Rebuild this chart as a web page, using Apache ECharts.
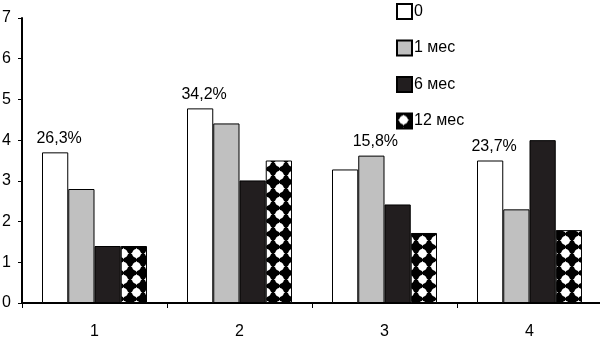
<!DOCTYPE html>
<html>
<head>
<meta charset="utf-8">
<script src="https://cdn.jsdelivr.net/npm/echarts@6/dist/echarts.min.js"></script>
<style>
  html, body { margin: 0; padding: 0; background: #fff; }
  #chart { width: 600px; height: 338px; }
</style>
</head>
<body>
<div id="chart"></div>
<script>
// Groups along the x axis
const categories = ['1', '2', '3', '4'];
// Series names (legend)
const seriesNames = ['0', '1 мес', '6 мес', '12 мес'];
// Values per series, one per group
const valuesM0 = [3.7, 4.78, 3.28, 3.5];
const valuesM1 = [2.8, 4.41, 3.62, 2.3];
const valuesM6 = [1.4, 3.01, 2.42, 4.0];
const valuesM12 = [1.4, 3.5, 1.72, 1.79];
// Percent annotations written above each group
const groupPercents = ['26,3%', '34,2%', '15,8%', '23,7%'];
// Y axis ticks
const yTicks = [0, 1, 2, 3, 4, 5, 6, 7];

const FONT = '"Liberation Sans", Arial, sans-serif';

// Black tile with a white rounded four-point blob, repeated as the fill of the last series
function makeDiamondTile() {
  const s = 13;
  const c = document.createElement('canvas');
  c.width = s; c.height = s;
  const g = c.getContext('2d');
  g.fillStyle = '#000';
  g.fillRect(0, 0, s, s);
  g.fillStyle = '#fff';
  const cx = s / 2, cy = s / 2;
  g.beginPath();
  g.arc(cx, cy, 4.4, 0, Math.PI * 2);
  g.fill();
  const r = 5.8, w = 1.8;
  g.beginPath();
  g.moveTo(cx, cy - r);
  g.lineTo(cx + w, cy - w);
  g.lineTo(cx + r, cy);
  g.lineTo(cx + w, cy + w);
  g.lineTo(cx, cy + r);
  g.lineTo(cx - w, cy + w);
  g.lineTo(cx - r, cy);
  g.lineTo(cx - w, cy - w);
  g.closePath();
  g.fill();
  return c;
}

const diamondFill = { image: makeDiamondTile(), repeat: 'repeat' };

// The percent label sits on the taller of the first two bars in each group
function withGroupLabel(values, other, preferOnTie) {
  return values.map((v, i) => {
    const show = preferOnTie ? v >= other[i] : v > other[i];
    return { value: v, label: { show: show } };
  });
}

const labelStyle = {
  position: 'top',
  distance: 6,
  offset: [4, 0],
  color: '#000',
  fontSize: 16,
  fontFamily: FONT,
  formatter: p => groupPercents[p.dataIndex]
};

const barBorder = { borderColor: '#000', borderWidth: 1 };

const chart = echarts.init(document.getElementById('chart'), null, { renderer: 'canvas' });

chart.setOption({
  backgroundColor: '#fff',
  animation: false,
  grid: {
    left: 22, top: 18, width: 580, height: 285,
    containLabel: false,
    outerBoundsMode: 'none'
  },
  legend: {
    orient: 'vertical',
    left: 396,
    top: 3,
    padding: 0,
    itemWidth: 15,
    itemHeight: 15,
    itemGap: 19.5,
    icon: 'rect',
    data: seriesNames,
    textStyle: { color: '#000', fontSize: 16, lineHeight: 15, fontFamily: FONT, padding: [0, 0, 0, -3] }
  },
  xAxis: {
    type: 'category',
    data: categories,
    axisLine: { lineStyle: { color: '#000', width: 2 } },
    axisTick: { show: true, length: 5, lineStyle: { color: '#000', width: 1 } },
    axisLabel: { color: '#000', fontSize: 16, fontFamily: FONT, margin: 21 },
    splitLine: { show: false }
  },
  yAxis: {
    type: 'value',
    min: yTicks[0],
    max: yTicks[yTicks.length - 1],
    interval: 1,
    axisLine: { show: true, lineStyle: { color: '#000', width: 2 } },
    axisTick: { show: true, length: 4, lineStyle: { color: '#000', width: 1 } },
    axisLabel: { color: '#000', fontSize: 16, fontFamily: FONT, margin: 11 },
    splitLine: { show: false }
  },
  series: [
    {
      name: seriesNames[0], type: 'bar',
      data: withGroupLabel(valuesM0, valuesM1, true),
      barGap: '0%', barCategoryGap: '27.6%',
      itemStyle: Object.assign({ color: '#ffffff' }, barBorder),
      label: labelStyle
    },
    {
      name: seriesNames[1], type: 'bar',
      data: withGroupLabel(valuesM1, valuesM0, false),
      barGap: '0%', barCategoryGap: '27.6%',
      itemStyle: Object.assign({ color: '#c0c0c0' }, barBorder),
      label: labelStyle
    },
    {
      name: seriesNames[2], type: 'bar',
      data: valuesM6,
      barGap: '0%', barCategoryGap: '27.6%',
      itemStyle: Object.assign({ color: '#221e1f' }, barBorder)
    },
    {
      name: seriesNames[3], type: 'bar',
      data: valuesM12,
      barGap: '0%', barCategoryGap: '27.6%',
      itemStyle: Object.assign({ color: diamondFill }, barBorder)
    }
  ]
});
</script>
</body>
</html>
